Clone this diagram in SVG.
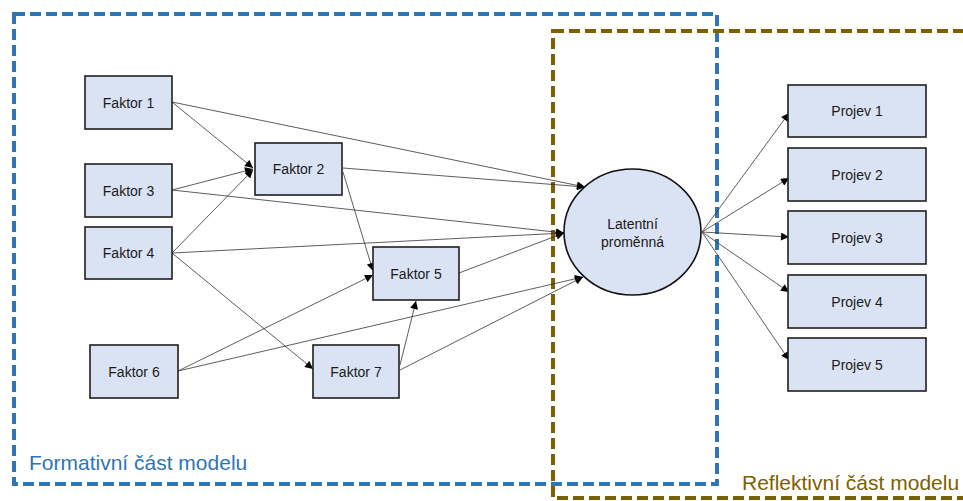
<svg xmlns="http://www.w3.org/2000/svg" width="963" height="501" viewBox="0 0 963 501">
<defs>
<marker id="ah" viewBox="0 0 10 10" refX="10" refY="5" markerWidth="9" markerHeight="8" markerUnits="userSpaceOnUse" orient="auto">
<path d="M0,0 L10,5 L0,10 z" fill="#000"/>
</marker>
<style>
.box{fill:#DAE3F3;stroke:#1f1f1f;stroke-width:1.6}
.lbl{font-family:"Liberation Sans",Arial,sans-serif;font-size:14px;fill:#1a1a1a;text-anchor:middle}
.edge{stroke:#333;stroke-width:0.8;fill:none;marker-end:url(#ah)}
.region{fill:none;stroke-width:4;stroke-dasharray:11 5}
.cap{font-family:"Liberation Sans",Arial,sans-serif;font-size:21px}
</style>
</defs>
<rect width="963" height="501" fill="#fff"/>
<g id="formativni">
<rect class="region" x="14" y="14" width="703" height="470" stroke="#2E75B6"/>
<text class="cap" x="29" y="470" fill="#2E75B6">Formativní část modelu</text>
</g>
<g id="reflektivni">
<rect class="region" x="553" y="31" width="430" height="467" stroke="#7F6000"/>
<text class="cap" x="742" y="490" fill="#7F6000">Reflektivní část modelu</text>
</g>
<g id="connectors">
<line class="edge" x1="172" y1="102" x2="253" y2="168"/>
<line class="edge" x1="172" y1="102" x2="585" y2="187"/>
<line class="edge" x1="172" y1="190" x2="253" y2="169"/>
<line class="edge" x1="172" y1="190" x2="564" y2="233"/>
<line class="edge" x1="172" y1="253" x2="253" y2="170"/>
<line class="edge" x1="172" y1="253" x2="564" y2="233"/>
<line class="edge" x1="172" y1="253" x2="313" y2="369"/>
<line class="edge" x1="343" y1="168" x2="585" y2="187"/>
<line class="edge" x1="343" y1="172" x2="373" y2="271"/>
<line class="edge" x1="178" y1="371" x2="373" y2="275"/>
<line class="edge" x1="178" y1="371" x2="583" y2="277"/>
<line class="edge" x1="400" y1="365" x2="416" y2="301"/>
<line class="edge" x1="400" y1="370" x2="583" y2="277"/>
<line class="edge" x1="459" y1="273" x2="564" y2="233"/>
<line class="edge" x1="702" y1="232" x2="789" y2="113"/>
<line class="edge" x1="702" y1="232" x2="789" y2="178"/>
<line class="edge" x1="702" y1="232" x2="789" y2="237"/>
<line class="edge" x1="702" y1="232" x2="789" y2="292"/>
<line class="edge" x1="702" y1="232" x2="789" y2="360"/>
</g>
<g id="faktor1"><rect class="box" x="85" y="76" width="87" height="53"/><text class="lbl" x="128.5" y="107.5">Faktor 1</text></g>
<g id="faktor2"><rect class="box" x="255" y="143" width="87" height="52"/><text class="lbl" x="298.5" y="174">Faktor 2</text></g>
<g id="faktor3"><rect class="box" x="85" y="164" width="87" height="53"/><text class="lbl" x="128.5" y="195.5">Faktor 3</text></g>
<g id="faktor4"><rect class="box" x="85" y="227" width="87" height="52"/><text class="lbl" x="128.5" y="258">Faktor 4</text></g>
<g id="faktor5"><rect class="box" x="373" y="247" width="86" height="53"/><text class="lbl" x="416" y="278.5">Faktor 5</text></g>
<g id="faktor6"><rect class="box" x="90" y="345" width="88" height="53"/><text class="lbl" x="134" y="376.5">Faktor 6</text></g>
<g id="faktor7"><rect class="box" x="313" y="345" width="86" height="53"/><text class="lbl" x="356" y="376.5">Faktor 7</text></g>
<g id="latentni">
<ellipse cx="632.5" cy="232" rx="68.5" ry="63" fill="#DAE3F3" stroke="#111" stroke-width="1.6"/>
<text class="lbl" x="632.5" y="229">Latentní</text>
<text class="lbl" x="632.5" y="247">proměnná</text>
</g>
<g id="projev1"><rect class="box" x="788" y="85" width="138" height="52"/><text class="lbl" x="857" y="116">Projev 1</text></g>
<g id="projev2"><rect class="box" x="788" y="148" width="138" height="53"/><text class="lbl" x="857" y="179.5">Projev 2</text></g>
<g id="projev3"><rect class="box" x="788" y="211" width="138" height="53"/><text class="lbl" x="857" y="242.5">Projev 3</text></g>
<g id="projev4"><rect class="box" x="788" y="275" width="138" height="53"/><text class="lbl" x="857" y="306.5">Projev 4</text></g>
<g id="projev5"><rect class="box" x="788" y="338" width="138" height="53"/><text class="lbl" x="857" y="369.5">Projev 5</text></g>
</svg>
